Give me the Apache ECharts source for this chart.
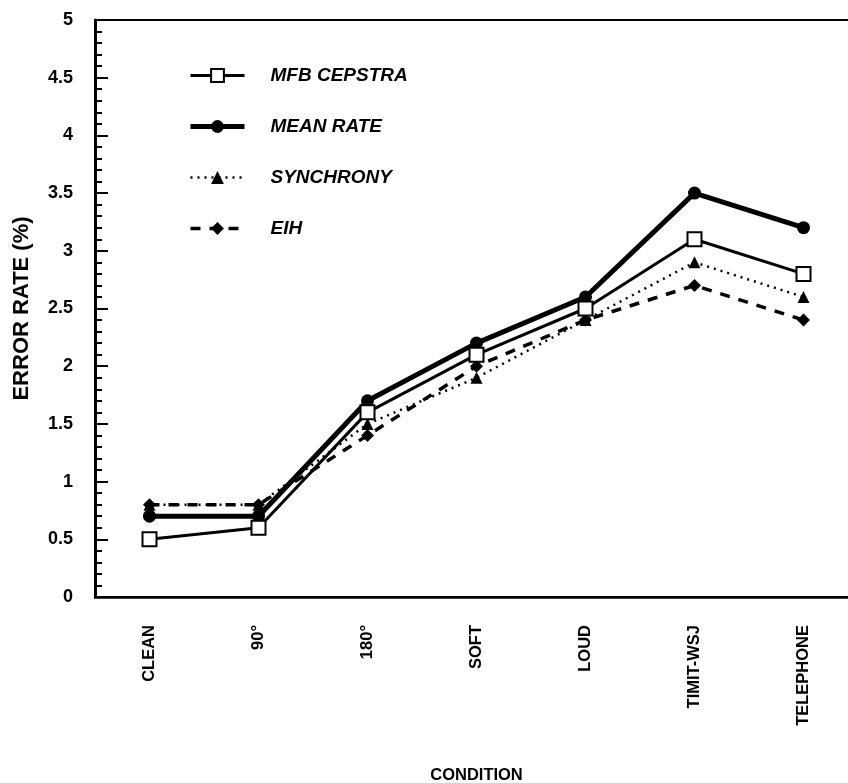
<!DOCTYPE html>
<html>
<head>
<meta charset="utf-8">
<script src="https://cdn.jsdelivr.net/npm/echarts@6/dist/echarts.min.js"></script>
<style>html,body{margin:0;padding:0;background:#fff}#c{width:848px;height:783px}</style>
</head>
<body>
<div id="c"></div>
<script>
const categories = ['CLEAN', '90°', '180°', 'SOFT', 'LOUD', 'TIMIT-WSJ', 'TELEPHONE'];
const mfbCepstra = [0.5, 0.6, 1.6, 2.1, 2.5, 3.1, 2.8];
const meanRate   = [0.7, 0.7, 1.7, 2.2, 2.6, 3.5, 3.2];
const synchrony  = [0.8, 0.8, 1.5, 1.9, 2.4, 2.9, 2.6];
const eih        = [0.8, 0.8, 1.4, 2.0, 2.4, 2.7, 2.4];

const FONT = '"Liberation Sans", Arial, Helvetica, sans-serif';
const chart = echarts.init(document.getElementById('c'), null, {renderer: 'canvas'});
chart.setOption({
  animation: false,
  backgroundColor: '#fff',
  grid: {left: 95, top: 20, width: 763, height: 577, outerBoundsMode: 'none', containLabel: false,
         show: true, borderColor: '#000', borderWidth: 2, backgroundColor: 'transparent'},
  legend: {
    orient: 'vertical', left: 188, top: 66, padding: 0, itemWidth: 54, itemHeight: 16, itemGap: 32,
    textStyle: {fontFamily: FONT, fontWeight: 'bold', fontStyle: 'italic', fontSize: 19, color: '#000', padding: [0, 0, 0, 21]},
    data: [
      {name: 'MFB CEPSTRA', lineStyle: {width: 3}},
      {name: 'MEAN RATE', lineStyle: {width: 5}},
      {name: 'SYNCHRONY', lineStyle: {width: 2.5}},
      {name: 'EIH', lineStyle: {width: 3.5}}
    ]
  },
  xAxis: {
    type: 'category', data: categories, boundaryGap: true,
    name: 'CONDITION', nameLocation: 'middle', nameGap: 170,
    nameTextStyle: {fontFamily: FONT, fontWeight: 'bold', fontSize: 16.5, color: '#000'},
    axisLine: {lineStyle: {color: '#000', width: 2.5}},
    axisTick: {inside: true, alignWithLabel: true, length: 13, lineStyle: {color: '#000', width: 2}},
    axisLabel: {rotate: 90, margin: 28, fontFamily: FONT, fontWeight: 'bold', fontSize: 16.5, color: '#000'}
  },
  yAxis: {
    type: 'value', min: 0, max: 5, interval: 0.5,
    name: 'ERROR RATE (%)', nameLocation: 'middle', nameGap: 62, nameRotate: 90,
    nameTextStyle: {fontFamily: FONT, fontWeight: 'bold', fontSize: 22, color: '#000'},
    axisLine: {show: true, lineStyle: {color: '#000', width: 3}},
    axisTick: {show: true, inside: true, length: 13, lineStyle: {color: '#000', width: 2}},
    minorTick: {show: true, splitNumber: 5, length: 7, lineStyle: {color: '#000', width: 2}},
    splitLine: {show: false},
    axisLabel: {margin: 22, fontFamily: FONT, fontWeight: 'bold', fontSize: 18, color: '#000'}
  },
  series: [
    {name: 'EIH', type: 'line', data: eih, symbol: 'diamond', symbolSize: 13,
     itemStyle: {color: '#000'}, lineStyle: {color: '#000', width: 3.5, type: [10, 9]}, z: 2},
    {name: 'SYNCHRONY', type: 'line', data: synchrony, symbol: 'triangle', symbolSize: 12,
     itemStyle: {color: '#000'}, lineStyle: {color: '#000', width: 2.5, type: [2, 5]}, z: 3},
    {name: 'MEAN RATE', type: 'line', data: meanRate, symbol: 'circle', symbolSize: 13,
     itemStyle: {color: '#000'}, lineStyle: {color: '#000', width: 5}, z: 4},
    {name: 'MFB CEPSTRA', type: 'line', data: mfbCepstra, symbol: 'rect', symbolSize: 14,
     itemStyle: {color: '#fff', borderColor: '#000', borderWidth: 2}, lineStyle: {color: '#000', width: 3}, z: 5}
  ]
});
</script>
</body>
</html>
